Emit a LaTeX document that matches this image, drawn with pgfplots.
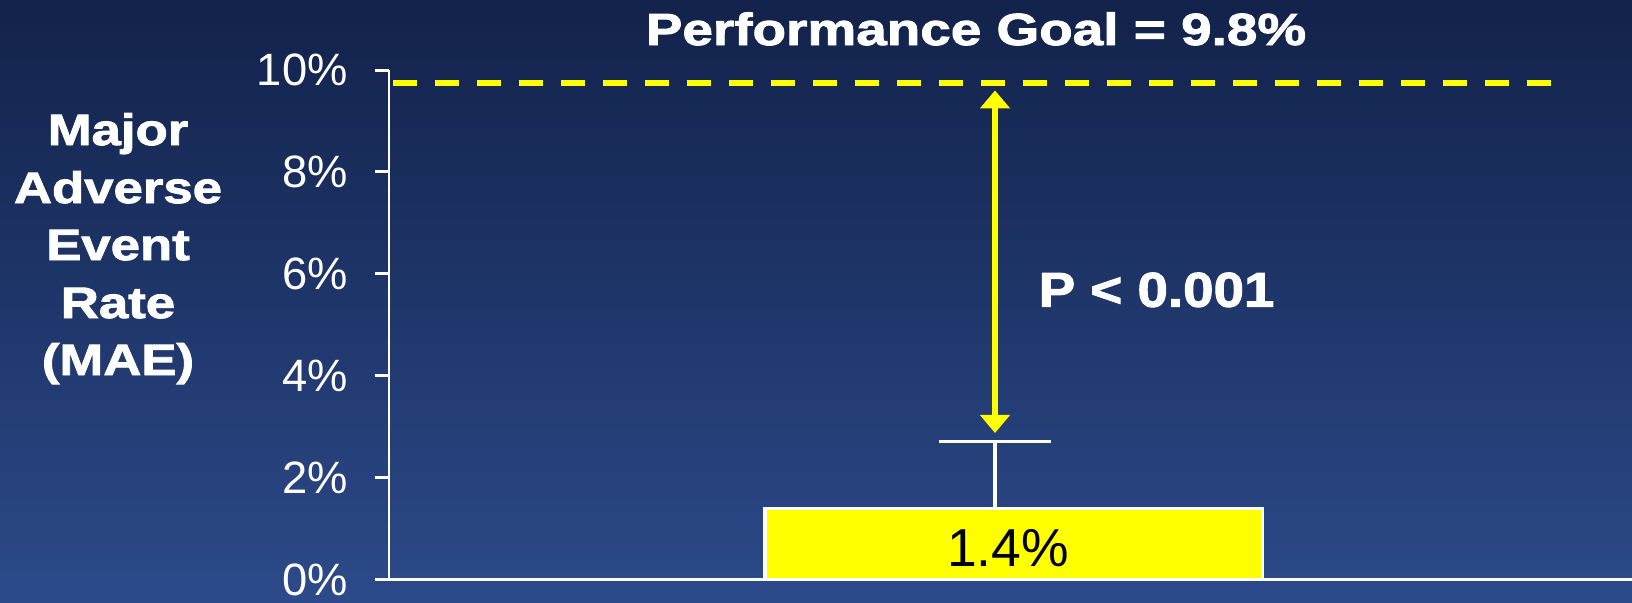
\documentclass[border=0pt]{standalone}
\usepackage{pgfplots}
\pgfplotsset{compat=1.18}
\usepackage{fontspec}
\setmainfont{Liberation Sans}
\newfontfamily\heavyT[FakeStretch=1.22,FakeBold=2]{Liberation Sans Bold}
\newfontfamily\heavyY[FakeStretch=1.2,FakeBold=2]{Liberation Sans Bold}
\newfontfamily\heavyP[FakeStretch=1.12,FakeBold=2]{Liberation Sans Bold}
\usetikzlibrary{arrows.meta}
\definecolor{bgtop}{RGB}{18,34,74}
\definecolor{bgbot}{RGB}{44,74,138}
\definecolor{goal}{RGB}{255,255,0}
\begin{document}
\begin{tikzpicture}
\shade[top color=bgtop,bottom color=bgbot] (0mm,0mm) rectangle (163.2mm,60.2mm);
\begin{axis}[
  at={(38.9mm,2.22mm)}, anchor=south west,
  scale only axis, width=124.3mm, height=50.98mm,
  xmin=0, xmax=1243, ymin=0, ymax=10,
  axis lines=left,
  axis line style={white, line width=0.85pt, -},
  xtick=\empty, ytick={0,2,...,10},
  tick align=outside, major tick length=1.4mm,
  tick style={white, line width=0.85pt},
  /pgf/number format/assume math mode=true,
  yticklabel={\pgfmathprintnumber{\tick}\%},
  yticklabel style={text=white, font=\fontsize{12.9}{14}\selectfont, xshift=-1.5mm},
  clip=false,
]
\addplot[ybar, bar width=497.5, fill=goal, draw=white, line width=0.9pt] coordinates {(624.8,1.4)};
\addplot[white, line width=0.9pt] coordinates {(606,1.4) (606,2.72)};
\addplot[white, line width=0.9pt] coordinates {(550,2.72) (662,2.72)};
\addplot[goal, line width=1.7pt, dash pattern=on 2.4mm off 1.8mm] coordinates {(4,9.75) (1162,9.75)};
\addplot[goal, line width=1.5pt, {Triangle[width=2.9mm,length=1.8mm]}-{Triangle[width=2.9mm,length=1.8mm]}] coordinates {(606,2.88) (606,9.6)};
\node[anchor=base, font=\fontsize{15.2}{17}\selectfont, text=black] at (axis cs:619,0.26) {1.4\%};
\end{axis}
\node[anchor=base, text=white, font=\heavyT\fontsize{12.8}{14}\selectfont] at (97.6mm,55.7mm) {Performance Goal = 9.8\%};
\foreach \t/\b in {Major/45.7, Adverse/39.9, Event/34.2, Rate/28.4, (MAE)/22.7}{
  \node[anchor=base, text=white, font=\heavyY\fontsize{12.5}{14}\selectfont] at (11.8mm,\b mm) {\t};
}
\node[anchor=base west, inner sep=0pt, text=white, font=\heavyP\fontsize{13.9}{15}\selectfont] at (103.8mm,29.53mm) {P < 0.001};
\pgfresetboundingbox
\path (0mm,0mm) rectangle (163.2mm,60.2mm);
\end{tikzpicture}
\end{document}
